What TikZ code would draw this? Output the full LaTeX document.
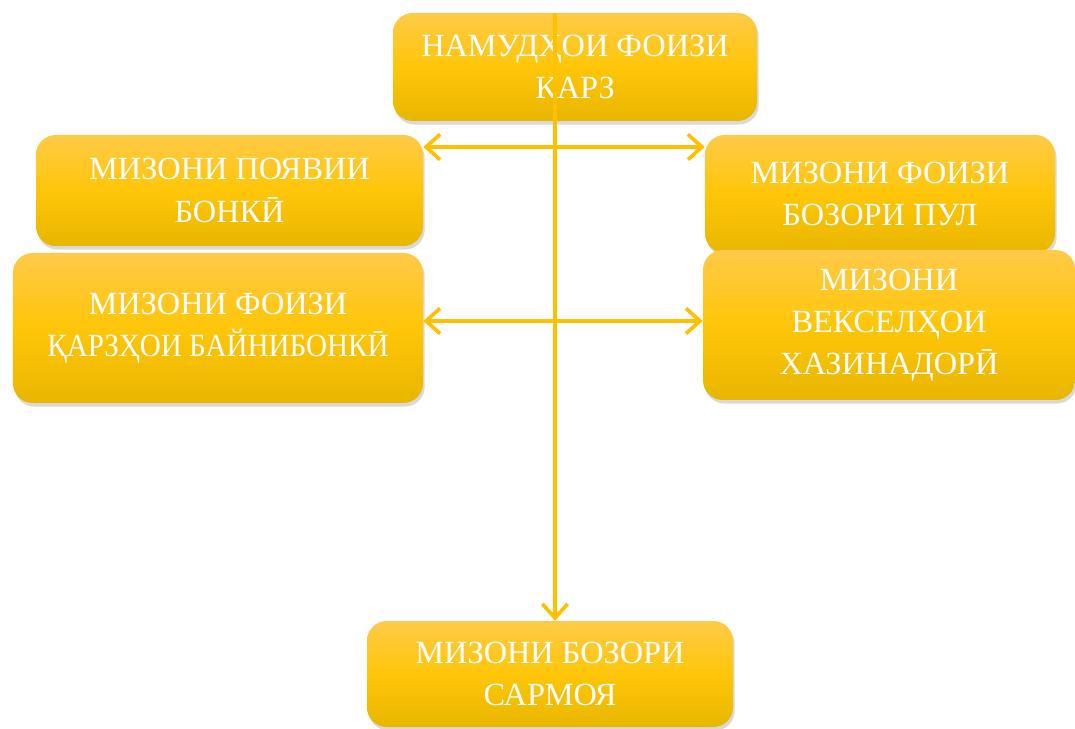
\documentclass[tikz,border=0pt]{standalone}
\usepackage{fontspec}
\setmainfont{Liberation Serif}
\usepackage{tikz}
\usepackage{xcolor}
\usetikzlibrary{arrows.meta, positioning, shadows, calc}
\definecolor{rate-top}{RGB}{255,202,72}
\definecolor{rate-mid}{RGB}{255,198,8}
\definecolor{rate-bot}{RGB}{232,182,0}
\definecolor{rate-line}{RGB}{255,192,0}

\begin{document}
\begin{tikzpicture}[
  box/.style={rounded corners=14pt, align=center, text=white, inner sep=0pt,
    font=\fontsize{23}{30}\selectfont,
    top color=rate-top, bottom color=rate-bot, middle color=rate-mid,
    drop shadow={shadow xshift=1.2pt, shadow yshift=-2.5pt, opacity=0.25, fill=black!60}},
  link/.style={line width=2.6pt, rate-line, {Straight Barb[length=10pt,width=18pt,line width=2.6pt]}-{Straight Barb[length=10pt,width=18pt,line width=2.6pt]}},
  down/.style={line width=2.6pt, rate-line, -{Straight Barb[length=10pt,width=18pt,line width=2.6pt]}},
]
  \useasboundingbox (0,0) rectangle (26.875,-18.225);
  \node[box, minimum width=9.1cm, minimum height=2.7cm] (kind) at (14.375,-1.675) {НАМУДҲОИ ФОИЗИ\\КАРЗ};
  \node[box, minimum width=9.675cm, minimum height=2.775cm] (disc) at (5.7375,-4.7625) {МИЗОНИ ПОЯВИИ\\БОНКӢ};
  \node[box, minimum width=8.75cm, minimum height=2.95cm] (money) at (22.0,-4.85) {МИЗОНИ ФОИЗИ\\БОЗОРИ ПУЛ};
  \node[box, minimum width=10.25cm, minimum height=3.75cm] (inter) at (5.45,-8.2) {МИЗОНИ ФОИЗИ\\\scalebox{0.9}[1]{ҚАРЗҲОИ БАЙНИБОНКӢ}};
  \node[box, minimum width=9.3cm, minimum height=3.75cm] (bills) at (22.225,-8.125) {МИЗОНИ\\ВЕКСЕЛҲОИ\\ХАЗИНАДОРӢ};
  \node[box, minimum width=9.15cm, minimum height=2.65cm] (invest) at (13.75,-16.85) {МИЗОНИ БОЗОРИ\\САРМОЯ};

  \coordinate (spine) at (13.875,0);
  \coordinate (row1) at (0,-3.675);
  \coordinate (row2) at (0,-8.025);

  \draw[link] (disc.east |- row1) -- (money.west |- row1);
  \draw[link] (inter.east |- row2) -- (bills.west |- row2);
  \draw[down] (spine |- kind.north) -- (spine |- invest.north);
\end{tikzpicture}
\end{document}
